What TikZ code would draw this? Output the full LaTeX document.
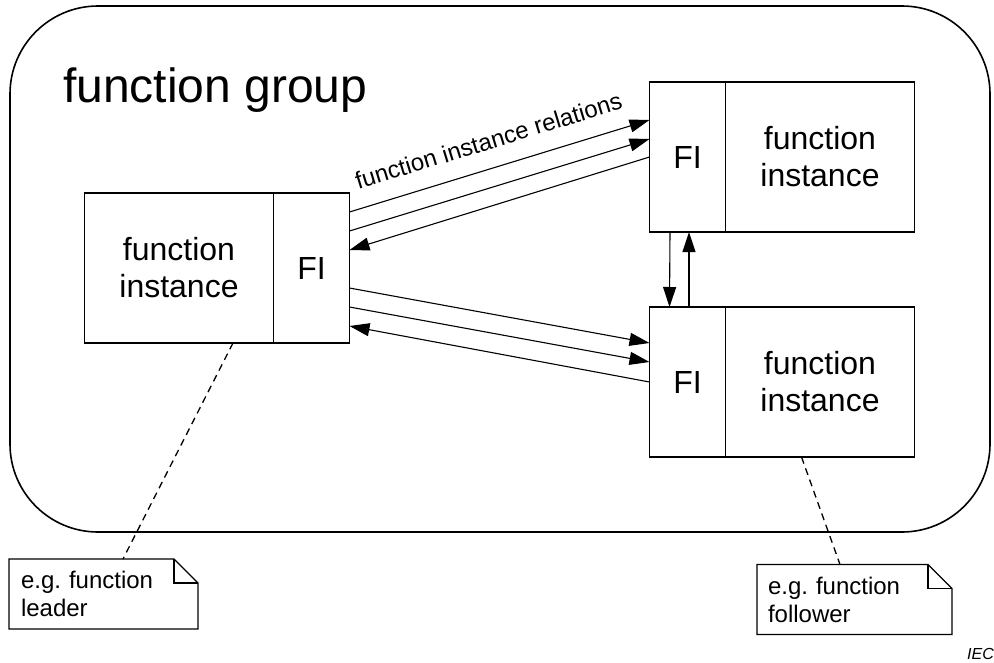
\documentclass[tikz,border=0pt]{standalone}
\usepackage{fontspec}
\setmainfont{Liberation Sans}
\usetikzlibrary{arrows.meta, positioning}
\frenchspacing
\tikzstyle{fibox}=[draw, line width=1.6pt, outer sep=0pt, inner sep=0pt, minimum width=76pt, minimum height=150pt, font=\fontsize{32}{37}\selectfont]
\tikzstyle{instbox}=[draw, line width=1.6pt, outer sep=0pt, inner sep=0pt, minimum width=189pt, minimum height=150pt, align=center, font=\fontsize{32}{37}\selectfont]
\tikzstyle{rel}=[line width=1.1pt,->]
\tikzstyle{note}=[inner sep=0pt, outer sep=0pt, minimum height=70pt, align=left, font=\fontsize{24}{28}\selectfont]
\tikzstyle{tie}=[line width=1.3pt, dash pattern=on 7pt off 5pt]

\begin{document}
\begin{tikzpicture}[x=1pt,y=-1pt,>={Triangle[length=20pt,width=13pt]}]
    \useasboundingbox (0,0) rectangle (994,662);

    % the group
    \node[draw, line width=1.6pt, rounded corners=88pt, outer sep=0pt, minimum width=980pt, minimum height=526pt] (grp) at (500,269) {};
    \node[anchor=base west, inner sep=0pt, font=\fontsize{48}{56}\selectfont] (title) at (63,102) {function group};

    % function instances
    \node[instbox] (instL) at (179,268) {function\\instance};
    \node[fibox, right=0pt of instL] (fiL) {FI};
    \node[fibox] (fiA) at (687.5,157) {FI};
    \node[instbox, right=0pt of fiA] (instA) {function\\instance};
    \node[fibox, below=75pt of fiA] (fiB) {FI};
    \node[instbox, right=0pt of fiB] (instB) {function\\instance};

    % relations
    \draw[rel] ([yshift=56pt]fiL.east) -- node[sloped, above=18pt, pos=0.49, inner sep=0pt, font=\fontsize{24}{28}\selectfont] (relname) {function instance relations} ([yshift=37pt]fiA.west);
    \draw[rel] ([yshift=37pt]fiL.east) -- ([yshift=18pt]fiA.west);
    \draw[rel] (fiA.west) -- ([yshift=18pt]fiL.east);
    \draw[rel] ([yshift=-20pt]fiL.east) -- ([yshift=39pt]fiB.west);
    \draw[rel] ([yshift=-39pt]fiL.east) -- ([yshift=20pt]fiB.west);
    \draw[rel] (fiB.west) -- ([yshift=-58pt]fiL.east);
    \draw[rel] ([xshift=-17.5pt]fiA.south) -- ([xshift=-18pt]fiB.north);
    \draw[rel] ([xshift=1.5pt]fiB.north) -- ([xshift=1.5pt]fiA.south);

    % notes
    \node[note, minimum width=189pt, text width=165pt] (noteL) at (103.5,594) {e.g. function\\leader};
    \node[note, minimum width=195pt, text width=173pt] (noteR) at (854.5,599.5) {e.g. function\\follower};
    \foreach \n in {noteL,noteR} {
        \draw[line width=1.4pt] (\n.north west) -- ([xshift=-24pt]\n.north east) -- ([yshift=-24pt]\n.north east) -- (\n.south east) -- (\n.south west) -- cycle;
        \draw[line width=1.4pt] ([xshift=-24pt]\n.north east) |- ([yshift=-24pt]\n.north east);
    }
    \draw[tie] ([xshift=54pt]instL.south) -- ([xshift=19.5pt]noteL.north);
    \draw[tie] ([xshift=-18.5pt]instB.south) -- ([xshift=-14.5pt]noteR.north);

    \node[anchor=base east, inner sep=0pt, font=\fontsize{16}{19}\selectfont\itshape] (iec) at (994,659) {IEC};
\end{tikzpicture}
\end{document}
